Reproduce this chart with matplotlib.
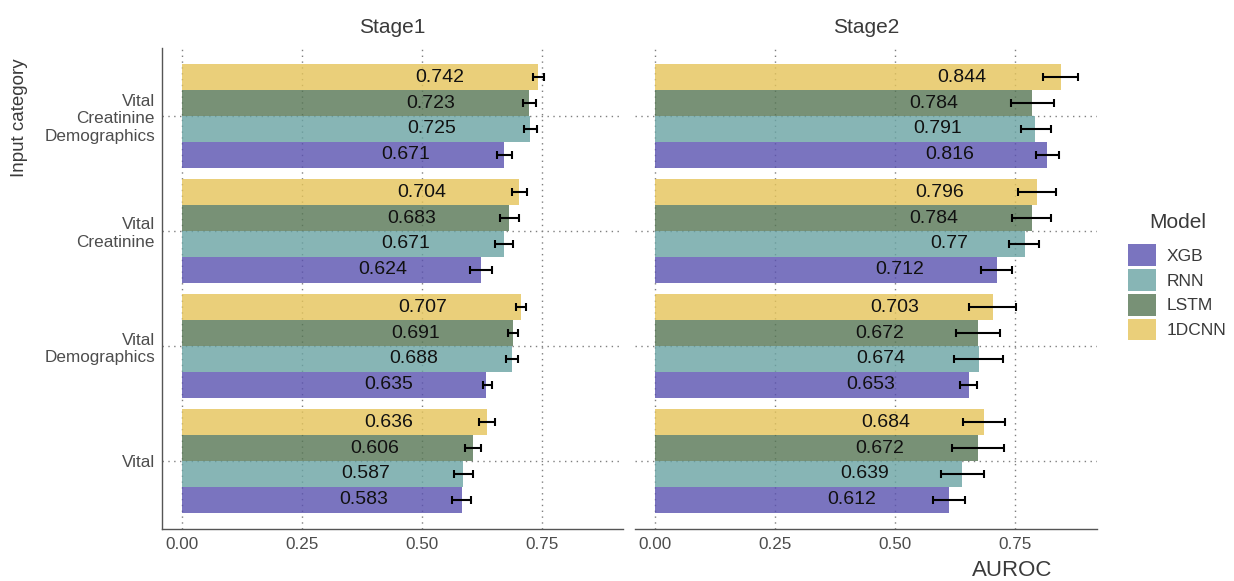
import matplotlib
matplotlib.use("Agg")
import matplotlib.pyplot as plt
from matplotlib.patches import Patch
import numpy as np

plt.rcParams['font.family'] = ['Liberation Sans', 'DejaVu Sans']

# ---------------- data ----------------
categories = ["Vital", "Vital\nDemographics", "Vital\nCreatinine",
              "Vital\nCreatinine\nDemographics"]          # bottom -> top
models = ["XGB", "RNN", "LSTM", "1DCNN"]                  # bottom -> top in group
stages = ["Stage1", "Stage2"]

# AUROC per category (rows) x model (cols: XGB, RNN, LSTM, 1DCNN)
stage1_auc = [[0.583, 0.587, 0.606, 0.636],
              [0.635, 0.688, 0.691, 0.707],
              [0.624, 0.671, 0.683, 0.704],
              [0.671, 0.725, 0.723, 0.742]]
stage1_lo = [[0.563, 0.567, 0.590, 0.619],
             [0.628, 0.676, 0.681, 0.697],
             [0.601, 0.653, 0.664, 0.689],
             [0.658, 0.714, 0.712, 0.733]]
stage1_hi = [[0.602, 0.607, 0.623, 0.652],
             [0.646, 0.700, 0.701, 0.717],
             [0.647, 0.690, 0.703, 0.719],
             [0.688, 0.740, 0.738, 0.755]]

stage2_auc = [[0.612, 0.639, 0.672, 0.684],
              [0.653, 0.674, 0.672, 0.703],
              [0.712, 0.770, 0.784, 0.796],
              [0.816, 0.791, 0.784, 0.844]]
stage2_lo = [[0.579, 0.595, 0.618, 0.641],
             [0.634, 0.622, 0.626, 0.653],
             [0.678, 0.737, 0.742, 0.756],
             [0.793, 0.761, 0.741, 0.808]]
stage2_hi = [[0.646, 0.684, 0.726, 0.729],
             [0.670, 0.724, 0.717, 0.752],
             [0.744, 0.799, 0.824, 0.834],
             [0.841, 0.824, 0.830, 0.880]]

colors = ["#5951B0", "#69A3A3", "#567654", "#E5C459"]
bar_alpha = 0.8
xticks = [0.0, 0.25, 0.5, 0.75]
xticklabels = ["0.00", "0.25", "0.50", "0.75"]

# ---------------- figure ----------------
W, H = 1234, 581
fig = plt.figure(figsize=(W / 100, H / 100), dpi=100)

def fx(px):
    return px / W

def fy(px):
    return 1 - px / H

axL = fig.add_axes([fx(162), fy(529), fx(623) - fx(162), fy(48) - fy(529)])
axR = fig.add_axes([fx(635), fy(529), fx(1097) - fx(635), fy(48) - fy(529)])
axes = [axL, axR]

data = [(stage1_auc, stage1_lo, stage1_hi), (stage2_auc, stage2_lo, stage2_hi)]

ypos = np.arange(1, len(categories) + 1)
group_w = 0.9
bar_h = group_w / len(models)

grid_kw = dict(color="#7f7f7f", lw=1.0, ls=(0, (1, 3.2)), zorder=0)
renderer = fig.canvas.get_renderer()

for ax, (auc, lo, hi), title in zip(axes, data, stages):
    auc = np.array(auc); lo = np.array(lo); hi = np.array(hi)
    ax.set_xlim(-0.042, 0.92)
    ax.set_ylim(0.409, 4.591)
    for xv in xticks:
        ax.axvline(xv, **grid_kw)
    for yv in ypos:
        ax.axhline(yv, **grid_kw)
    for j, m in enumerate(models):
        yy = ypos - group_w / 2 + bar_h * (j + 0.5)
        ax.barh(yy, auc[:, j], height=bar_h, color=colors[j], alpha=bar_alpha,
                edgecolor="none", zorder=2)
        ax.errorbar(auc[:, j], yy, xerr=[auc[:, j] - lo[:, j], hi[:, j] - auc[:, j]],
                    fmt="none", ecolor="black", elinewidth=1.5, capsize=3,
                    capthick=1.5, zorder=4)
        for v, y in zip(auc[:, j], yy):
            lab = f"{v:g}"
            t = ax.text(v, y, lab, ha="right", va="center", fontsize=14)
            w = t.get_window_extent(renderer).width
            t.remove()
            ax.annotate(lab, xy=(v, y), xycoords="data",
                        xytext=(-1.5 * w, 0), textcoords="offset pixels",
                        ha="right", va="center", fontsize=14, color="#111111",
                        zorder=5)
    ax.set_xticks(xticks)
    ax.set_xticklabels(xticklabels)
    ax.tick_params(axis="x", length=0, pad=5.5, labelsize=12.3, labelcolor="#4d4d4d")
    ax.set_yticks(ypos)
    for s in ["top", "right"]:
        ax.spines[s].set_visible(False)
    ax.spines["bottom"].set_color("#555555")
    ax.spines["bottom"].set_linewidth(1.0)
    pos = ax.get_position()
    fig.text((pos.x0 + pos.x1) / 2, fy(33), title,
             fontsize=15, color="#3a3a3a", ha="center", va="baseline")

axL.set_yticklabels(categories)
axL.tick_params(axis="y", length=0, pad=5, labelsize=12.3, labelcolor="#4d4d4d")
axL.spines["left"].set_color("#555555")
axL.spines["left"].set_linewidth(1.0)
axR.set_yticklabels([])
axR.tick_params(axis="y", length=0)
axR.spines["left"].set_visible(False)

fig.text(fx(20), fy(118), "Input category", rotation=90, fontsize=13.5,
         color="#3a3a3a", ha="center", va="center")
fig.text(fx(1012), fy(576), "AUROC", fontsize=16, color="#3a3a3a",
         ha="center", va="baseline")

handles = [Patch(facecolor=c, alpha=bar_alpha, edgecolor="none") for c in colors]
fig.legend(handles, models, loc="upper left", bbox_to_anchor=(fx(1128), fy(244.5)),
           frameon=False, fontsize=12.5, handlelength=1.6, handleheight=1.55,
           labelspacing=0.17, handletextpad=0.63, borderpad=0, borderaxespad=0,
           labelcolor="#3a3a3a")
fig.text(fx(1178), fy(222), "Model", fontsize=15, color="#3a3a3a",
         ha="center", va="center")

fig.savefig("out.png", dpi=100)
